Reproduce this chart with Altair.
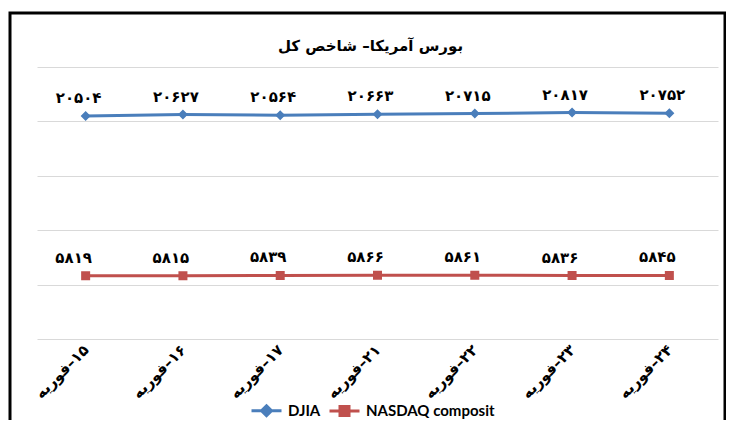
import altair as alt
import pandas as pd

# ---- data ----
dates = ["۱۵–فوریه", "۱۶–فوریه", "۱۷–فوریه", "۲۱–فوریه", "۲۲–فوریه", "۲۳–فوریه", "۲۴–فوریه"]
djia = [20504, 20627, 20564, 20663, 20715, 20817, 20752]
nasdaq = [5819, 5815, 5839, 5866, 5861, 5836, 5845]
series = ["DJIA", "NASDAQ composit"]
y_ticks = [0, 5000, 10000, 15000, 20000, 25000]
chart_title = "بورس آمریکا– شاخص کل"

RLM = "\u200F"
fa_digits = str.maketrans("0123456789", "۰۱۲۳۴۵۶۷۸۹")
x_order = [RLM + d for d in dates]

rows = []
for i, d in enumerate(x_order):
    for s, vals in zip(series, [djia, nasdaq]):
        rows.append({"date": d, "series": s, "value": vals[i],
                     "label": str(vals[i]).translate(fa_digits)})
df = pd.DataFrame(rows)

FONT = "DejaVu Sans"
colors = ["#4a7ebb", "#c0504d"]
shapes = ["M-3,0H3M0,-1L1,0L0,1L-1,0Z", "M-3,0H3M-0.9,-0.9H0.9V0.9H-0.9Z"]

x_enc = alt.X("date:N", sort=x_order, title=None,
              axis=alt.Axis(labelAngle=-45, labelAlign="right", labelBaseline="middle",
                            labelFont=FONT, labelFontSize=15, labelFontWeight="bold",
                            labelColor="black", domain=False, ticks=False, grid=False,
                            labelPadding=8))
y_enc = alt.Y("value:Q", title=None,
              scale=alt.Scale(domain=[0, 25000], nice=False),
              axis=alt.Axis(values=y_ticks, labels=False, ticks=False, domain=False,
                            grid=True, gridColor="#d9d9d9", gridWidth=1))
color_scale = alt.Scale(domain=series, range=colors)
shape_scale = alt.Scale(domain=series, range=shapes)

legend = alt.Legend(title=None, orient="none", legendX=222, legendY=336,
                    direction="horizontal", labelFont="Lato",
                    labelFontSize=15, labelFontWeight="bold",
                    labelColor="black", symbolSize=100, labelOffset=14,
                    symbolStrokeWidth=3, columnPadding=2, padding=0)

base = alt.Chart(df)

lines = base.mark_line(strokeWidth=3).encode(
    x=x_enc, y=y_enc,
    color=alt.Color("series:N", scale=color_scale, legend=legend),
)

points = base.mark_point(filled=True, opacity=1, size=100, strokeWidth=0).encode(
    x=x_enc, y=y_enc,
    color=alt.Color("series:N", scale=color_scale, legend=legend),
    shape=alt.Shape("series:N", scale=shape_scale, legend=legend),
)

label_style = dict(dy=-18, font=FONT, fontSize=15, fontWeight="bold", color="black")
labels_djia = base.transform_filter(alt.datum.series == series[0]).mark_text(
    dx=-7, **label_style).encode(x=x_enc, y=y_enc, text="label:N")
labels_nasdaq = base.transform_filter(alt.datum.series == series[1]).mark_text(
    dx=-12, **label_style).encode(x=x_enc, y=y_enc, text="label:N")

frame = alt.Chart(pd.DataFrame({"k": [0]})).mark_rect(
    fill="transparent", stroke="black", strokeWidth=3
).encode(
    x=alt.value(-27), x2=alt.value(688), y=alt.value(-54), y2=alt.value(420)
)

chart = alt.layer(frame, lines, points, labels_djia, labels_nasdaq).properties(
    width=681, height=272,
    background="white",
    title=alt.TitleParams(chart_title, font=FONT, fontSize=15, fontWeight="bold",
                          color="black", offset=-42, anchor="middle", dx=-7),
    autosize=alt.AutoSizeParams(type="none"),
    padding={"left": 29, "top": 59, "right": 8, "bottom": 81},
).configure_view(stroke=None)

chart.save("out.html", embed_options={"renderer": "svg", "actions": False})
